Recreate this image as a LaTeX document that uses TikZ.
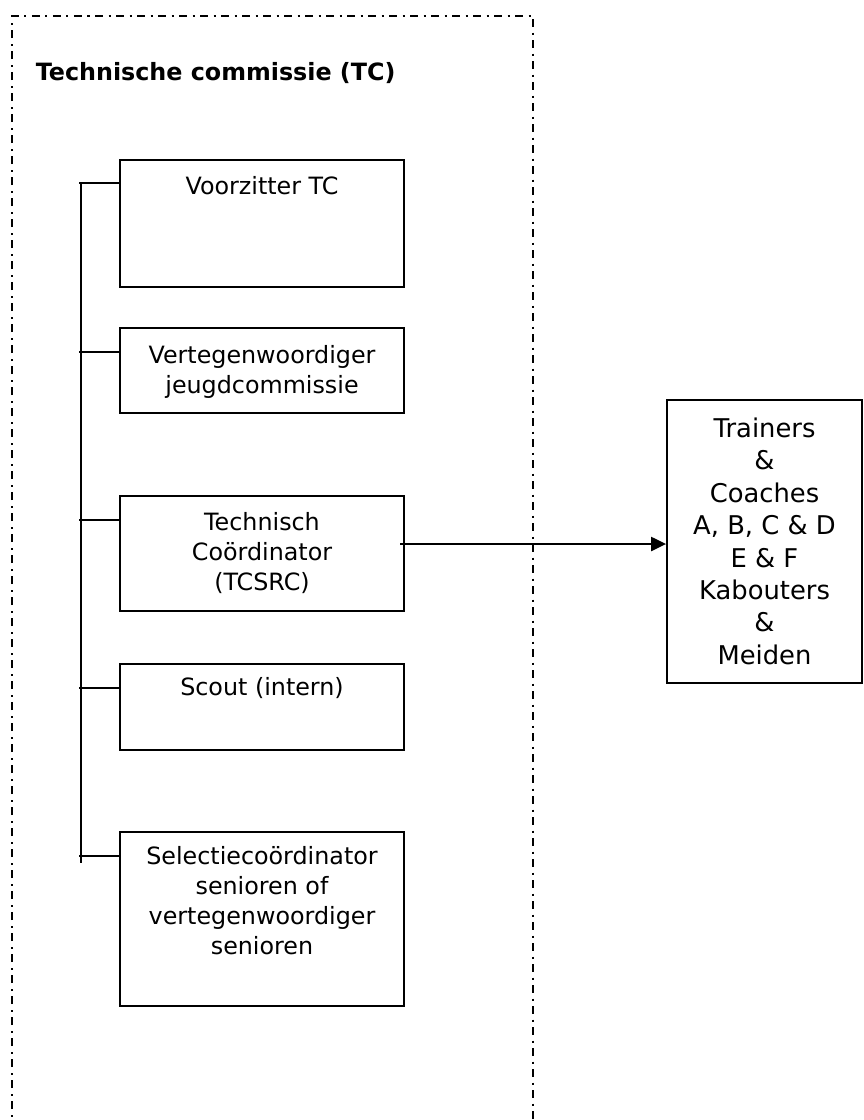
\documentclass[tikz,border=0pt]{standalone}
\usepackage{fontspec}
\setmainfont{DejaVu Sans}
\usetikzlibrary{arrows.meta}
\begin{document}
\begin{tikzpicture}[x=1pt,y=-1pt,
  line width=1.6pt,
  box/.style={draw,line width=1.8pt,rectangle,minimum width=284pt,inner sep=0pt},
  lbl/.style={anchor=north,align=center,inner sep=0pt,font=\fontsize{23.8}{30}\selectfont},
  rlbl/.style={anchor=north,align=center,inner sep=0pt,font=\fontsize{25.8}{32.4}\selectfont},
  frame/.style={line width=2pt,dash pattern=on 8pt off 5.5pt on 2pt off 5.5pt},
  conn/.style={line width=1.8pt},
  arr/.style={line width=2.2pt,-{Triangle[length=15pt,width=14pt]}}]
\useasboundingbox (0,0) rectangle (864,1120);
% dashed frame
\coordinate (f1) at (12,1130);
\coordinate (f2) at (12,16);
\coordinate (f3) at (533,16);
\coordinate (f4) at (533,1130);
\draw[frame] (f1) -- (f2) -- (f3) -- (f4);
\node[anchor=west,inner sep=0pt,font=\fontsize{23.8}{30}\selectfont\bfseries] (title) at (35,73) {Technische commissie (TC)};
% boxes
\node[box,minimum height=127pt] (b1) at (262,223.5) {};
\node[box,minimum height=85pt] (b2) at (262,370.5) {};
\node[box,minimum height=115pt] (b3) at (262,553.5) {};
\node[box,minimum height=86pt] (b4) at (262,707) {};
\node[box,minimum height=174pt] (b5) at (262,919) {};
\node[box,minimum width=195pt,minimum height=283pt] (r) at (764.5,541.5) {};
% labels
\node[lbl] (t1) at ([yshift=-14pt]b1.north) {\strut Voorzitter TC};
\node[lbl] (t2) at ([yshift=-15pt]b2.north) {\strut Vertegenwoordiger\\jeugdcommissie};
\node[lbl] (t3) at ([yshift=-14pt]b3.north) {\strut Technisch\\Coördinator\\(TCSRC)};
\node[lbl] (t4) at ([yshift=-11pt]b4.north) {\strut Scout (intern)};
\node[lbl] (t5) at ([yshift=-12pt]b5.north) {\strut Selectiecoördinator\\senioren of\\vertegenwoordiger\\senioren};
\node[rlbl] (tr) at ([yshift=-15pt]r.north) {\strut Trainers\\\&\\Coaches\\A, B, C \& D\\E \& F\\Kabouters\\\&\\Meiden};
% spine
\coordinate (s0) at (81,183);
\coordinate (s1) at (81,863);
\draw[conn] (s0) -- (s1);
\coordinate (c1) at (79,183);
\coordinate (c2) at (79,352);
\coordinate (c3) at (79,520);
\coordinate (c4) at (79,688);
\coordinate (c5) at (79,856);
\draw[conn] (c1) -- (c1 -| b1.west);
\draw[conn] (c2) -- (c2 -| b2.west);
\draw[conn] (c3) -- (c3 -| b3.west);
\draw[conn] (c4) -- (c4 -| b4.west);
\draw[conn] (c5) -- (c5 -| b5.west);
% arrow
\coordinate (as) at (400,544);
\draw[arr] (as) -- (as -| r.west);
\end{tikzpicture}
\end{document}
